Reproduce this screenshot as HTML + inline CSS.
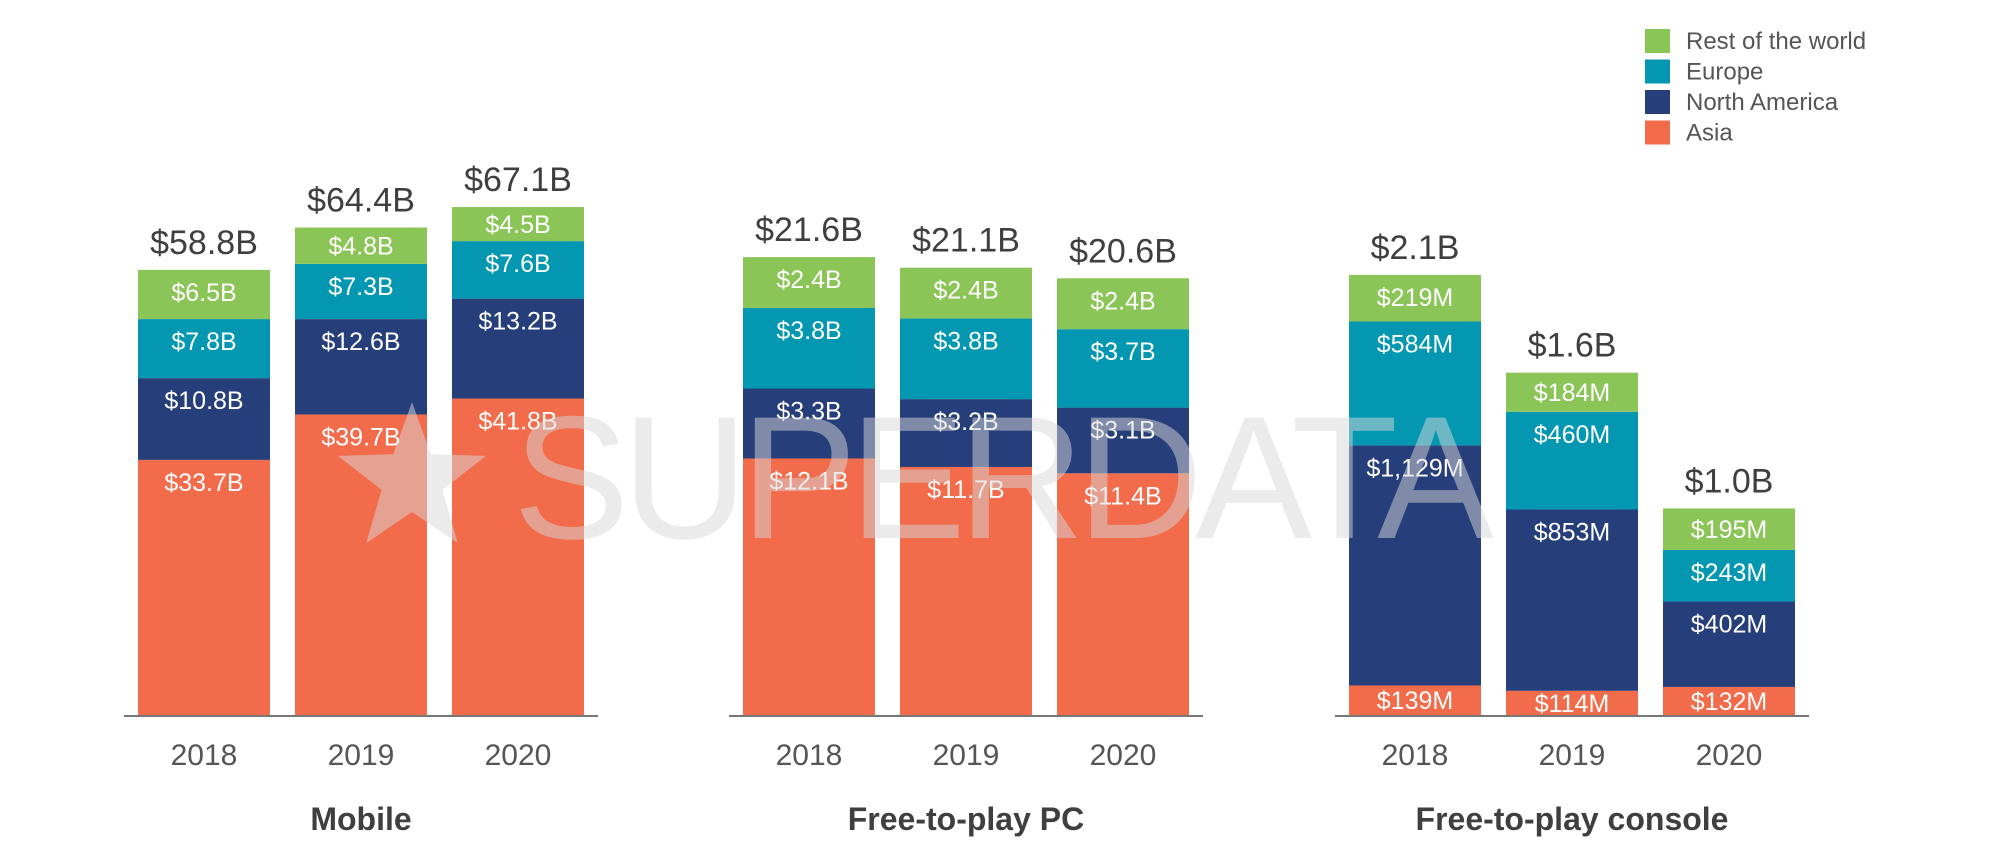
<!DOCTYPE html>
<html><head><meta charset="utf-8">
<style>
html,body{margin:0;padding:0;background:#fff;}
body{width:2000px;height:857px;overflow:hidden;position:relative;font-family:"Liberation Sans",sans-serif;}
svg{position:absolute;left:0;top:0;}
</style></head>
<body>
<svg id="chart" width="2000" height="857" viewBox="0 0 2000 857">
  <g id="bars"></g>
  <g id="watermark" opacity="0.5">
    <polygon id="wm-star" fill="#d8d8d8"></polygon>
    <text x="513" y="538" font-size="175" fill="#d8d8d8" textLength="981" lengthAdjust="spacing" font-family="Liberation Sans, sans-serif">SUPERDATA</text>
  </g>
  <g id="legend"></g>
</svg>
<script>
const panels = ["Mobile", "Free-to-play PC", "Free-to-play console"];
const years = ["2018", "2019", "2020"];
const seriesNames = ["Asia", "North America", "Europe", "Rest of the world"];
const seriesColors = ["#F26B4A", "#263E7A", "#0397B1", "#8BC557"];
// values per panel, per year, [Asia, NA, Europe, RoW]
const mobileValues = [[33.7, 10.8, 7.8, 6.5], [39.7, 12.6, 7.3, 4.8], [41.8, 13.2, 7.6, 4.5]];
const pcValues = [[12.1, 3.3, 3.8, 2.4], [11.7, 3.2, 3.8, 2.4], [11.4, 3.1, 3.7, 2.4]];
const consoleValues = [[139, 1129, 584, 219], [114, 853, 460, 184], [132, 402, 243, 195]];
const mobileLabels = [["$33.7B","$10.8B","$7.8B","$6.5B"],["$39.7B","$12.6B","$7.3B","$4.8B"],["$41.8B","$13.2B","$7.6B","$4.5B"]];
const pcLabels = [["$12.1B","$3.3B","$3.8B","$2.4B"],["$11.7B","$3.2B","$3.8B","$2.4B"],["$11.4B","$3.1B","$3.7B","$2.4B"]];
const consoleLabels = [["$139M","$1,129M","$584M","$219M"],["$114M","$853M","$460M","$184M"],["$132M","$402M","$243M","$195M"]];
const mobileTotals = ["$58.8B", "$64.4B", "$67.1B"];
const pcTotals = ["$21.6B", "$21.1B", "$20.6B"];
const consoleTotals = ["$2.1B", "$1.6B", "$1.0B"];

const NS = "http://www.w3.org/2000/svg";
const baseY = 715;
const panelValues = [mobileValues, pcValues, consoleValues];
const panelLabels = [mobileLabels, pcLabels, consoleLabels];
const panelTotals = [mobileTotals, pcTotals, consoleTotals];
const panelScale = [7.57, 21.2, 0.2125];
const panelX0 = [138, 743, 1349];
const barStep = 157, barW = 132;
function yScale(p, v) { return v * panelScale[p]; }
function mk(tag, attrs, parent) { const e = document.createElementNS(NS, tag); for (const k in attrs) e.setAttribute(k, attrs[k]); parent.appendChild(e); return e; }
const g = document.getElementById("bars");
panels.forEach((pn, p) => {
  const pg = mk("g", {}, g);
  
  
  const x0 = panelX0[p];
  const axis = mk("line", {x1: x0 - 14, x2: x0 + 2 * barStep + barW + 14, y1: baseY + 1, y2: baseY + 1, stroke: "#777", "stroke-width": 2}, pg);
  
  
  panelValues[p].forEach((vals, i) => {
    const x = x0 + i * barStep;
    let cum = 0;
    vals.forEach((v, s) => {
      const h = yScale(p, v);
      const top = baseY - yScale(p, cum) - h;
      const r = mk("rect", {x: x, y: top, width: barW, height: h, fill: seriesColors[s]}, pg);
      
      
      const cy = top + Math.min(h / 2, 22);
      const t = mk("text", {x: x + barW / 2, y: cy + 9, "text-anchor": "middle", "font-size": 25, fill: "#fff"}, pg);
      t.textContent = panelLabels[p][i][s];
      
      
      cum += v;
    });
    const topAll = baseY - yScale(p, cum);
    const tt = mk("text", {x: x + barW / 2, y: topAll - 16, "text-anchor": "middle", "font-size": 34, fill: "#3f3f3f"}, pg);
    tt.textContent = panelTotals[p][i];
    
    
    const yl = mk("text", {x: x + barW / 2, y: 765, "text-anchor": "middle", "font-size": 30, fill: "#555"}, pg);
    yl.textContent = years[i];
    
    
  });
  const tl = mk("text", {x: x0 + barStep + barW / 2, y: 830, "text-anchor": "middle", "font-size": 32, "font-weight": "bold", fill: "#3f3f3f"}, pg);
  tl.textContent = pn;
  
  
});
// watermark star
(function(){
  const cx = 412, cy = 480, R = 78, r = 32; const pts = [];
  for (let k = 0; k < 10; k++) { const a = -Math.PI/2 + k*Math.PI/5; const rr = k%2 ? r : R; pts.push((cx+rr*Math.cos(a)).toFixed(1)+","+(cy+rr*Math.sin(a)).toFixed(1)); }
  document.getElementById("wm-star").setAttribute("points", pts.join(" "));
})();
const lg = document.getElementById("legend");
[3, 2, 1, 0].forEach((s, k) => {
  const y = 29 + k * 30.5;
  const r = mk("rect", {x: 1645, y: y, width: 25, height: 24, fill: seriesColors[s]}, lg);
  
  
  const t = mk("text", {x: 1686, y: y + 20, "font-size": 24, fill: "#555"}, lg);
  t.textContent = seriesNames[s];
  
  
});
</script>
</body></html>
